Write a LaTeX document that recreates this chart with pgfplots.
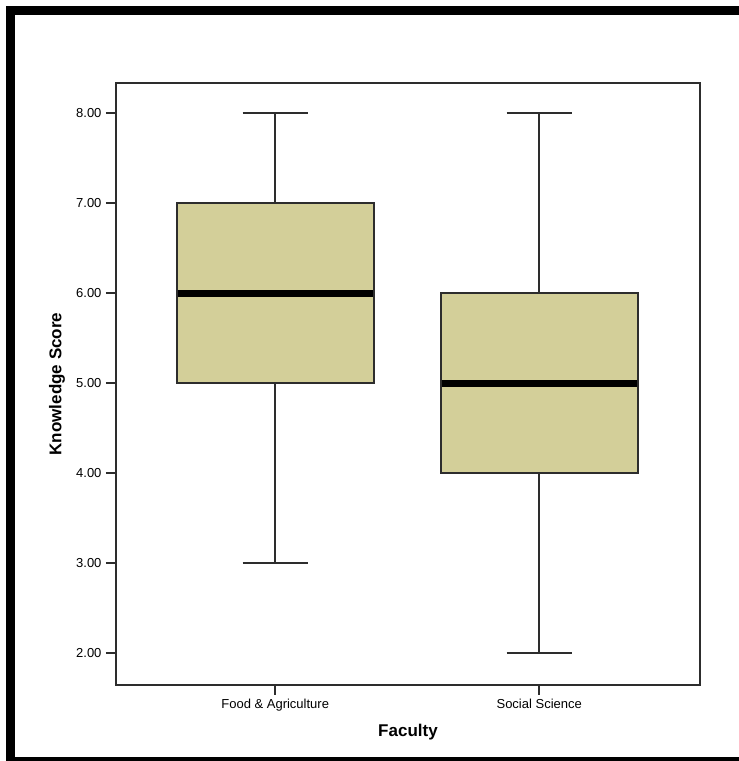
\documentclass[border=0pt]{standalone}
\usepackage{fontspec}
\setmainfont{Liberation Sans}
\usepackage{pgfplots}
\pgfplotsset{compat=1.18}
\definecolor{boxfill}{RGB}{211,207,153}
\definecolor{edge}{RGB}{45,45,45}
\begin{document}
\begin{tikzpicture}
\useasboundingbox (0pt,0pt) rectangle (739pt,761pt);
\draw[line width=9pt,black] (10.5pt,-0.5pt) rectangle (760pt,750.5pt);
\begin{axis}[
  at={(116pt,76pt)}, anchor=south west,
  scale only axis, width=584pt, height=602pt,
  xmin=-0.603, xmax=1.609, ymin=1.648, ymax=8.337,
  xtick={0,1}, xticklabels={Food \& Agriculture, Social Science},
  ytick={2,3,4,5,6,7,8},
  /pgf/number format/fixed, /pgf/number format/fixed zerofill,
  /pgf/number format/precision=2, /pgf/number format/assume math mode=true,
  tick align=outside, xtick pos=bottom, ytick pos=left,
  major tick length=10pt,
  every tick/.style={edge, line width=1.8pt},
  axis line style={edge, line width=2pt},
  ticklabel style={font=\fontsize{13}{13}\selectfont},
  yticklabel style={xshift=-1pt},
  xticklabel style={yshift=-1pt},
  xlabel={Faculty}, ylabel={Knowledge Score},
  label style={font=\bfseries\fontsize{17}{17}\selectfont},
  xlabel style={at={(axis description cs:0.5,0)}, anchor=center, yshift=-47pt},
  ylabel style={at={(axis description cs:0,0.5)}, anchor=center, yshift=59pt},
  wh/.style={draw=edge, line width=2pt, mark=none},
]
% Food & Agriculture: min 3, Q1 5, median 6, Q3 7, max 8
\addplot[wh] coordinates {(0,7) (0,8)};
\addplot[wh] coordinates {(-0.123,8) (0.123,8)};
\addplot[wh] coordinates {(0,5) (0,3)};
\addplot[wh] coordinates {(-0.123,3) (0.123,3)};
\addplot[fill=boxfill, draw=edge, line width=2pt] coordinates {(-0.373,5) (0.373,5) (0.373,7) (-0.373,7)} -- cycle;
\addplot[draw=black, line width=6.5pt] coordinates {(-0.37,6) (0.37,6)};
% Social Science: min 2, Q1 4, median 5, Q3 6, max 8
\addplot[wh] coordinates {(1,6) (1,8)};
\addplot[wh] coordinates {(0.877,8) (1.123,8)};
\addplot[wh] coordinates {(1,4) (1,2)};
\addplot[wh] coordinates {(0.877,2) (1.123,2)};
\addplot[fill=boxfill, draw=edge, line width=2pt] coordinates {(0.627,4) (1.373,4) (1.373,6) (0.627,6)} -- cycle;
\addplot[draw=black, line width=6.5pt] coordinates {(0.63,5) (1.37,5)};
\end{axis}
\end{tikzpicture}
\end{document}
